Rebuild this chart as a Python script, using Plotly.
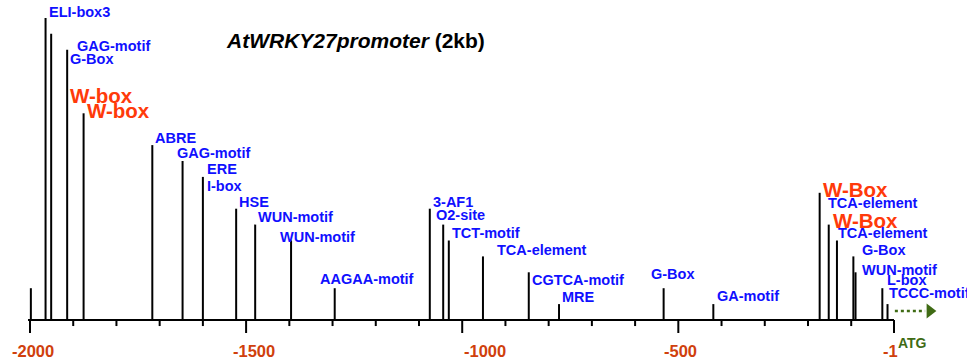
import plotly.graph_objects as go

# ---- data ----
site_pos = [-1998, -1964, -1951, -1914, -1876, -1717, -1647, -1600, -1523, -1479, -1396,
            -1295, -1075, -1044, -1031, -952, -846, -776, -534, -419,
            -173, -152, -133, -95, -90, -28, -16]
site_level = [2, 19, 18, 17, 13, 11, 10, 9, 7, 6, 5,
              2, 7, 6, 5, 4, 3, 1, 2, 1,
              8, 6, 5, 4, 3, 2, 1]

label_text = ["ELI-box3", "GAG-motif", "G-Box", "W-box", "W-box", "ABRE", "GAG-motif", "ERE",
              "I-box", "HSE", "WUN-motif", "WUN-motif", "AAGAA-motif", "3-AF1", "O2-site",
              "TCT-motif", "TCA-element", "CGTCA-motif", "MRE", "G-Box", "GA-motif",
              "W-Box", "TCA-element", "W-Box", "TCA-element", "G-Box", "WUN-motif",
              "L-box", "TCCC-motif"]
label_x = [-1957.7, -1893.6, -1909.8, -1909.8, -1870.5, -1712.5, -1663.0, -1593.6,
           -1593.6, -1518.9, -1475.6, -1423.3, -1330.8, -1070.1, -1063.9,
           -1026.1, -922.0, -840.4, -771.0, -565.1, -413.1,
           -168.7, -155.7, -145.5, -132.5, -78.4, -78.4,
           -20.6, -16.0]
label_y = [19.39, 17.25, 16.42, 14.15, 13.16, 11.47, 10.48, 9.48,
           8.43, 7.44, 6.46, 5.24, 2.56, 7.44, 6.58,
           5.49, 4.40, 2.52, 1.47, 2.87, 1.51,
           8.22, 7.38, 6.23, 5.47, 4.38, 3.14,
           2.52, 1.68]

major_ticks = [-2000, -1500, -1000, -500, -1]
major_labels = ["-2000", "-1500", "-1000", "-500", "-1"]
minor_ticks = [v for v in range(-1900, 0, 100) if v % 500 != 0]
atg_pos = -1

title_main = "AtWRKY27promoter"
title_sub = "(2kb)"

# ---- styling ----
FONT = "Arial, Liberation Sans, sans-serif"
BLUE = "#1010ff"
RED = "#ff3a0a"
TICK_RED = "#d0400c"
GREEN = "#3f6b14"
tick_label_shift = [3, 8, 23, 2, -4]

fig = go.Figure()

# site lines
xs, ys = [], []
for p, h in zip(site_pos, site_level):
    xs += [p, p, None]
    ys += [0, h, None]
fig.add_trace(go.Scatter(x=xs, y=ys, mode="lines", line=dict(color="black", width=2),
                         hoverinfo="skip", showlegend=False))

# baseline
fig.add_trace(go.Scatter(x=[-2004.6, major_ticks[-1]], y=[0, 0], mode="lines",
                         line=dict(color="black", width=2), hoverinfo="skip", showlegend=False))

# ticks
tx, ty = [], []
for t in major_ticks:
    tx += [t, t, None]
    ty += [0, -0.82, None]
for t in minor_ticks:
    tx += [t, t, None]
    ty += [0, -0.38, None]
fig.add_trace(go.Scatter(x=tx, y=ty, mode="lines", line=dict(color="black", width=2),
                         hoverinfo="skip", showlegend=False))

# ATG arrow (dotted)
fig.add_trace(go.Scatter(x=[atg_pos + 2, atg_pos + 72], y=[0.57, 0.57], mode="lines",
                         line=dict(color=GREEN, width=2.5, dash="dot"),
                         hoverinfo="skip", showlegend=False))
fig.add_trace(go.Scatter(x=[atg_pos + 83], y=[0.57], mode="markers",
                         marker=dict(symbol="triangle-right", size=13, color=GREEN),
                         hoverinfo="skip", showlegend=False))

annotations = []
for t, x, y in zip(label_text, label_x, label_y):
    is_w = t.lower() == "w-box"
    annotations.append(dict(
        x=x, y=y, xref="x", yref="y", text=f"<b>{t}</b>", showarrow=False,
        xanchor="left", yanchor="middle", borderpad=0,
        font=dict(family=FONT, size=20.5 if is_w else 14.5, color=RED if is_w else BLUE)))

for t, lab, sh in zip(major_ticks, major_labels, tick_label_shift):
    annotations.append(dict(
        x=t, y=-1.95, xref="x", yref="y", text=f"<b>{lab}</b>", showarrow=False,
        xanchor="center", yanchor="middle", xshift=sh, borderpad=0,
        font=dict(family=FONT, size=16.5, color=TICK_RED)))

annotations.append(dict(
    x=atg_pos, y=-1.47, xref="x", yref="y", text="<b>ATG</b>", showarrow=False,
    xanchor="left", yanchor="middle", xshift=3, borderpad=0,
    font=dict(family=FONT, size=14, color=GREEN)))

annotations.append(dict(
    x=355 / 967, y=1 - 40 / 360, xref="paper", yref="paper",
    text=f"<b><i>{title_main}</i> {title_sub}</b>",
    showarrow=False, xanchor="center", yanchor="middle",
    font=dict(family=FONT, size=21, color="black")))

fig.update_layout(
    width=967, height=360, margin=dict(l=0, r=0, t=0, b=0),
    paper_bgcolor="white", plot_bgcolor="white",
    xaxis=dict(range=[-2069.4, 167.9], visible=False, fixedrange=True),
    yaxis=dict(range=[-2.516, 20.126], visible=False, fixedrange=True),
    annotations=annotations, showlegend=False,
)

fig.write_html("out.html")
